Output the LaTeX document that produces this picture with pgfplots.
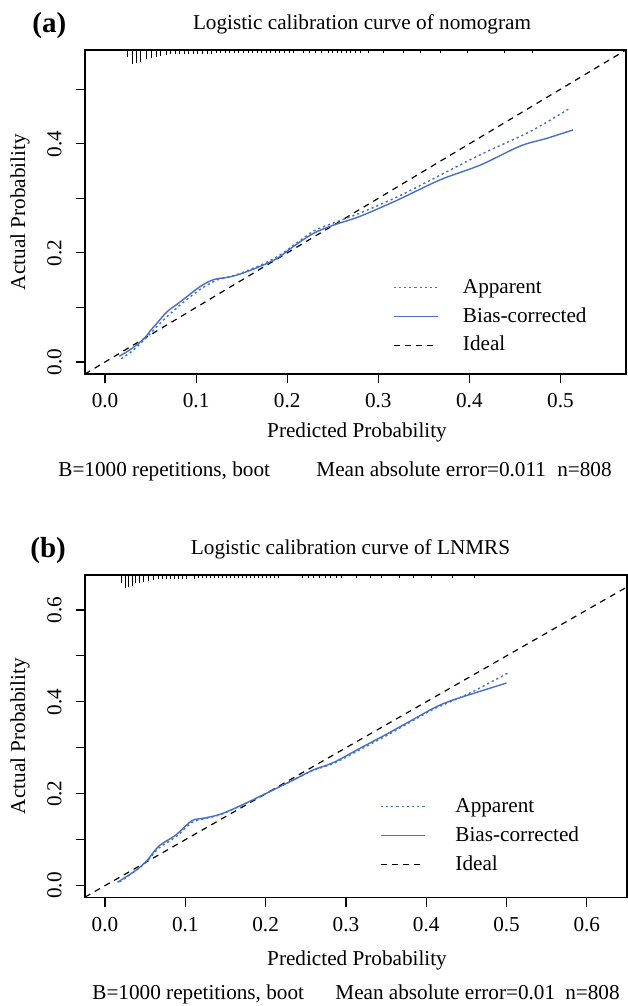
\documentclass[border=0pt]{standalone}
\usepackage{fontspec}
\setmainfont{Liberation Serif}
\usepackage{pgfplots}
\pgfplotsset{compat=1.18}
\definecolor{calblue}{RGB}{70,112,200}
\newcommand\fs{\fontsize{10.6}{12.7}\selectfont}
\pgfplotsset{
  legend image code/.code={\draw[#1] (0pt,0pt) -- (22pt,0pt);},
  calib/.style={
    scale only axis,
    axis line style={black, line width=0.6pt},
    tick style={black, line width=0.6pt},
    tick align=outside, major tick length=4.7pt,
    xtick pos=bottom, ytick pos=left,
    tick label style={font=\fs, inner sep=0pt},
    xticklabel style={anchor=north},
    yticklabel style={rotate=90, anchor=south},
    xticklabel shift=4.8pt, yticklabel shift=6.8pt,
    legend cell align=left,
    legend style={draw=none, fill=none, font=\fs, inner sep=0pt,
      nodes={inner sep=0pt, text height=10pt, text depth=4.45pt},
      row sep=0pt, column sep=12.3pt},
  },
  ideal/.style={black, line width=0.6pt, dash pattern=on 3pt off 2.6pt},
  app/.style={calblue, line width=0.7pt, dash pattern=on 1.1pt off 1.5pt, smooth, tension=0.5},
  bias/.style={calblue, line width=0.7pt, smooth, tension=0.5},
  rug/.style={black, line width=0.45pt, quiver={u=0, v=-\thisrow{h}}},
}
\begin{document}
\begin{tikzpicture}[x=0.5pt,y=0.5pt]

% ---------------- panel (a) ----------------
\node[font=\fontsize{14.5}{16}\selectfont\bfseries, anchor=base west, inner sep=0pt] at (32,973) {(a)};
\node[font=\fs, anchor=base, inner sep=0pt] at (362,976) {Logistic calibration curve of nomogram};
\begin{axis}[calib, at={(42.5pt,316pt)}, anchor=south west,
  width=270.5pt, height=162pt,
  xmin=-0.022, xmax=0.572, ymin=-0.022, ymax=0.572,
  xtick={0,0.1,0.2,0.3,0.4,0.5},
  xticklabels={0.0,0.1,0.2,0.3,0.4,0.5},
  ytick={0,0.1,0.2,0.3,0.4,0.5},
  yticklabels={0.0,,0.2,,0.4,},
  legend style={at={(axis cs:0.3157,0.1636)}, anchor=north west},
]
\addlegendimage{app}\addlegendentry{Apparent}
\addlegendimage{bias}\addlegendentry{Bias-corrected}
\addlegendimage{ideal}\addlegendentry{Ideal}
\addplot[ideal, forget plot] coordinates {(-0.022,-0.022) (0.572,0.572)};
\addplot[app, forget plot] coordinates {
(0.0176,0.006) (0.030,0.020) (0.045,0.044) (0.061,0.072) (0.080,0.101)
(0.100,0.128) (0.112,0.141) (0.124,0.151) (0.134,0.155) (0.148,0.162)
(0.170,0.177) (0.190,0.194) (0.207,0.214) (0.229,0.240) (0.251,0.255)
(0.280,0.273) (0.320,0.302) (0.357,0.333) (0.412,0.380) (0.4665,0.4223)
(0.5086,0.4634)};
\addplot[bias, forget plot] coordinates {
(0.0157,0.0105) (0.0294,0.0246) (0.043,0.043) (0.050,0.058) (0.057,0.071)
(0.068,0.092) (0.080,0.107) (0.090,0.120) (0.100,0.133) (0.108,0.142)
(0.116,0.149) (0.124,0.153) (0.134,0.155) (0.148,0.161) (0.170,0.175)
(0.189,0.190) (0.207,0.212) (0.229,0.236) (0.251,0.251) (0.280,0.267)
(0.320,0.296) (0.368,0.334) (0.412,0.361) (0.456,0.396) (0.485,0.410)
(0.514,0.4255)};
\addplot[rug, forget plot] table {
x y h
0.0244 0.572 0.0123
0.0296 0.572 0.0262
0.0340 0.572 0.0244
0.0393 0.572 0.0214
0.0450 0.572 0.0165
0.0507 0.572 0.0152
0.0560 0.572 0.0123
0.0613 0.572 0.0104
0.0670 0.572 0.0092
0.072 0.572 0.0075
0.077 0.572 0.0075
0.082 0.572 0.0073
0.087 0.572 0.0073
0.092 0.572 0.0070
0.097 0.572 0.0070
0.102 0.572 0.0068
0.107 0.572 0.0068
0.112 0.572 0.0066
0.117 0.572 0.0066
0.122 0.572 0.0064
0.127 0.572 0.0064
0.132 0.572 0.0062
0.137 0.572 0.0062
0.142 0.572 0.0060
0.147 0.572 0.0060
0.152 0.572 0.0060
0.157 0.572 0.0058
0.162 0.572 0.0058
0.167 0.572 0.0058
0.172 0.572 0.0056
0.177 0.572 0.0056
0.182 0.572 0.0056
0.187 0.572 0.0055
0.192 0.572 0.0055
0.197 0.572 0.0055
0.202 0.572 0.0055
0.207 0.572 0.0055
0.218 0.572 0.0050
0.224 0.572 0.0050
0.231 0.572 0.0050
0.238 0.572 0.0050
0.245 0.572 0.0055
0.250 0.572 0.0055
0.255 0.572 0.0055
0.260 0.572 0.0055
0.265 0.572 0.0055
0.270 0.572 0.0055
0.275 0.572 0.0055
0.280 0.572 0.0055
0.289 0.572 0.0055
0.306 0.572 0.0055
0.328 0.572 0.0055
0.346 0.572 0.0055
0.368 0.572 0.0055
0.398 0.572 0.0055
0.438 0.572 0.0055
0.469 0.572 0.0055
};
\end{axis}
\node[font=\fs, anchor=base, inner sep=0pt] at (357,568) {Predicted Probability};
\node[font=\fs, rotate=90, inner sep=0pt] at (20,794) {Actual Probability};
\node[font=\fs, anchor=base west, inner sep=0pt] at (58,529) {B=1000 repetitions, boot};
\node[font=\fs, anchor=base west, inner sep=0pt] at (316,529) {Mean absolute error=0.011};
\node[font=\fs, anchor=base east, inner sep=0pt] at (612,529) {n=808};

% ---------------- panel (b) ----------------
\node[font=\fontsize{14.5}{16}\selectfont\bfseries, anchor=base west, inner sep=0pt] at (30,448) {(b)};
\node[font=\fs, anchor=base, inner sep=0pt] at (350.5,451) {Logistic calibration curve of LNMRS};
\begin{axis}[calib, at={(42.5pt,54.2pt)}, anchor=south west,
  width=271pt, height=161.3pt,
  xmin=-0.0249, xmax=0.650, ymin=-0.026, ymax=0.676,
  xtick={0,0.1,0.2,0.3,0.4,0.5,0.6},
  xticklabels={0.0,0.1,0.2,0.3,0.4,0.5,0.6},
  ytick={0,0.1,0.2,0.3,0.4,0.5,0.6},
  yticklabels={0.0,,0.2,,0.4,,0.6},
  legend style={at={(axis cs:0.342,0.204)}, anchor=north west, column sep=15pt},
]
\addlegendimage{app}\addlegendentry{Apparent}
\addlegendimage{bias}\addlegendentry{Bias-corrected}
\addlegendimage{ideal}\addlegendentry{Ideal}
\addplot[ideal, forget plot] coordinates {(-0.0249,-0.0249) (0.650,0.650)};
\addplot[app, forget plot] coordinates {
(0.0180,0.0080) (0.0378,0.0320) (0.052,0.052) (0.067,0.082) (0.088,0.106)
(0.108,0.137) (0.1225,0.145) (0.143,0.154) (0.168,0.173) (0.201,0.201)
(0.2345,0.230) (0.2594,0.251) (0.2846,0.266) (0.3176,0.296) (0.350,0.326)
(0.380,0.356) (0.410,0.385) (0.430,0.400) (0.460,0.424) (0.503,0.464)};
\addplot[bias, forget plot] coordinates {
(0.0156,0.0073) (0.0378,0.0327) (0.052,0.054) (0.067,0.086) (0.088,0.110)
(0.108,0.141) (0.1225,0.1467) (0.143,0.155) (0.168,0.1734) (0.201,0.201)
(0.2345,0.230) (0.2594,0.2518) (0.2846,0.268) (0.3176,0.299) (0.350,0.329)
(0.380,0.358) (0.410,0.387) (0.430,0.402) (0.460,0.419) (0.500,0.441)};
\addplot[rug, forget plot] table {
x y h
0.0205 0.676 0.0168
0.0249 0.676 0.0290
0.0294 0.676 0.0268
0.0338 0.676 0.0240
0.0382 0.676 0.0180
0.0427 0.676 0.0168
0.0484 0.676 0.0146
0.0543 0.676 0.0131
0.0605 0.676 0.0109
0.066 0.676 0.0087
0.071 0.676 0.0087
0.076 0.676 0.0085
0.081 0.676 0.0085
0.086 0.676 0.0083
0.091 0.676 0.0083
0.096 0.676 0.0080
0.101 0.676 0.0080
0.111 0.676 0.0078
0.116 0.676 0.0076
0.121 0.676 0.0076
0.126 0.676 0.0074
0.131 0.676 0.0074
0.136 0.676 0.0072
0.141 0.676 0.0072
0.146 0.676 0.0070
0.151 0.676 0.0070
0.156 0.676 0.0070
0.161 0.676 0.0068
0.166 0.676 0.0068
0.171 0.676 0.0068
0.176 0.676 0.0066
0.181 0.676 0.0066
0.186 0.676 0.0066
0.191 0.676 0.0065
0.196 0.676 0.0065
0.201 0.676 0.0065
0.206 0.676 0.0065
0.211 0.676 0.0065
0.216 0.676 0.0065
0.246 0.676 0.0065
0.253 0.676 0.0065
0.260 0.676 0.0065
0.267 0.676 0.0065
0.274 0.676 0.0065
0.281 0.676 0.0065
0.288 0.676 0.0065
0.295 0.676 0.0065
0.313 0.676 0.0065
0.331 0.676 0.0065
0.344 0.676 0.0065
0.367 0.676 0.0065
0.384 0.676 0.0065
0.406 0.676 0.0065
0.433 0.676 0.0065
0.460 0.676 0.0065
};
\end{axis}
\node[font=\fs, anchor=base, inner sep=0pt] at (357,40) {Predicted Probability};
\node[font=\fs, rotate=90, inner sep=0pt] at (20,270) {Actual Probability};
\node[font=\fs, anchor=base west, inner sep=0pt] at (92,6) {B=1000 repetitions, boot};
\node[font=\fs, anchor=base west, inner sep=0pt] at (335,6) {Mean absolute error=0.01};
\node[font=\fs, anchor=base east, inner sep=0pt] at (620,6) {n=808};

\pgfresetboundingbox
\path[use as bounding box] (0,0) rectangle (627,1006);
\end{tikzpicture}
\end{document}
